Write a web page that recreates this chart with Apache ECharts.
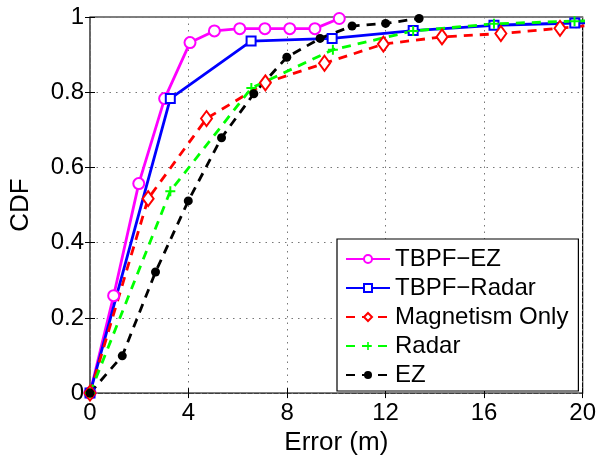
<!DOCTYPE html>
<html>
<head>
<meta charset="utf-8">
<script src="https://cdn.jsdelivr.net/npm/echarts@6/dist/echarts.min.js"></script>
<style>
  html, body { margin: 0; padding: 0; background: #fff; }
  #chart { width: 599px; height: 461px; }
</style>
</head>
<body>
<div id="chart"></div>
<script>
var xTicks = [0, 4, 8, 12, 16, 20];
var yTicks = [0, 0.2, 0.4, 0.6, 0.8, 1];

var tbpfEzX = [0, 0.96, 1.98, 3.03, 4.06, 5.05, 6.08, 7.1, 8.11, 9.13, 10.12];
var tbpfEzY = [0, 0.259, 0.557, 0.783, 0.932, 0.963, 0.969, 0.969, 0.969, 0.969, 0.996];

var tbpfRadarX = [0, 3.26, 6.54, 9.83, 13.12, 16.4, 19.68, 22.96];
var tbpfRadarY = [0, 0.783, 0.936, 0.943, 0.964, 0.978, 0.984, 0.99];

var magX = [0, 2.36, 4.73, 7.12, 9.52, 11.91, 14.29, 16.68, 19.08, 21.45];
var magY = [0, 0.517, 0.73, 0.825, 0.877, 0.928, 0.947, 0.956, 0.97, 0.985];

var radarX = [0, 3.26, 6.55, 9.86, 13.12, 16.4, 19.67, 22.96];
var radarY = [0, 0.537, 0.811, 0.913, 0.963, 0.982, 0.989, 0.995];

var ezX = [0, 1.31, 2.66, 3.99, 5.34, 6.65, 7.99, 9.34, 10.64, 12.0, 13.36];
var ezY = [0, 0.099, 0.322, 0.511, 0.679, 0.796, 0.893, 0.943, 0.976, 0.983, 0.996];

var FONT = '"Liberation Sans", Arial, Helvetica, sans-serif';
var PLUS = 'path://M4,0H6V4H10V6H6V10H4V6H0V4H4Z';

function pairs(xs, ys) {
  return xs.map(function (x, i) { return [x, ys[i]]; });
}

function makeSeries(name, xs, ys, color, symbol, size, dashed) {
  return {
    name: name,
    type: 'line',
    data: pairs(xs, ys),
    symbol: symbol,
    symbolSize: size,
    showAllSymbol: true,
    clip: true,
    color: color,
    lineStyle: { color: color, width: 2.8, type: dashed ? [9, 7] : 'solid' },
    itemStyle: { color: color, borderWidth: 2 },
    emphasis: { disabled: true },
    animation: false
  };
}

var chart = echarts.init(document.getElementById('chart'));

var axisCommon = {
  type: 'value',
  axisLine: { show: false },
  axisTick: { show: true, inside: true, length: 5, lineStyle: { color: '#000', width: 1 } }
};

var option = {
  backgroundColor: '#fff',
  animation: false,
  grid: {
    left: 89, right: 13, top: 17, bottom: 64,
    show: true, borderColor: '#000', borderWidth: 1.2
  },
  legend: {
    orient: 'vertical',
    left: 337, top: 239,
    width: 238,
    padding: [8, 10, 4, 8],
    backgroundColor: '#fff',
    borderColor: '#000',
    borderWidth: 1.2,
    itemWidth: 44,
    itemHeight: 10,
    itemGap: 5,
    textStyle: { fontFamily: FONT, fontSize: 24, color: '#000', lineHeight: 24 },
    data: ['TBPF\u2212EZ', 'TBPF\u2212Radar', 'Magnetism Only', 'Radar', 'EZ']
  },
  xAxis: [
    Object.assign({}, axisCommon, {
      min: 0, max: 20, interval: 4,
      name: 'Error (m)',
      nameLocation: 'middle',
      nameGap: 32,
      nameTextStyle: { fontFamily: FONT, fontSize: 26, color: '#000' },
      axisLabel: {
        fontFamily: FONT, fontSize: 24, color: '#000', margin: 8,
        formatter: function (v) { return xTicks.indexOf(v) >= 0 ? String(v) : ''; }
      },
      splitLine: { show: true, lineStyle: { color: '#777', width: 1, type: [1.5, 5] } }
    }),
    Object.assign({}, axisCommon, {
      position: 'top', min: 0, max: 20, interval: 4,
      axisLabel: { show: false }, splitLine: { show: false }
    })
  ],
  yAxis: [
    Object.assign({}, axisCommon, {
      min: 0, max: 1, interval: 0.2,
      name: 'CDF',
      nameLocation: 'middle',
      nameGap: 56,
      nameTextStyle: { fontFamily: FONT, fontSize: 26, color: '#000' },
      axisLabel: {
        fontFamily: FONT, fontSize: 24, color: '#000', margin: 6,
        formatter: function (v) {
          var r = Math.round(v * 10) / 10;
          return yTicks.indexOf(r) >= 0 ? String(r) : '';
        }
      },
      splitLine: { show: true, lineStyle: { color: '#777', width: 1, type: [1.5, 5] } }
    }),
    Object.assign({}, axisCommon, {
      position: 'right', min: 0, max: 1, interval: 0.2,
      axisLabel: { show: false }, splitLine: { show: false }
    })
  ],
  series: [
    makeSeries('TBPF\u2212EZ', tbpfEzX, tbpfEzY, '#ff00ff', 'emptyCircle', 11, false),
    makeSeries('TBPF\u2212Radar', tbpfRadarX, tbpfRadarY, '#0000ff', 'emptyRect', 9, false),
    makeSeries('Magnetism Only', magX, magY, '#ff0000', 'emptyDiamond', [11, 15], true),
    makeSeries('Radar', radarX, radarY, '#00ff00', PLUS, 10, true),
    makeSeries('EZ', ezX, ezY, '#000000', 'circle', 9, true)
  ]
};

chart.setOption(option);
window.addEventListener('resize', function () { chart.resize(); });
</script>
</body>
</html>
